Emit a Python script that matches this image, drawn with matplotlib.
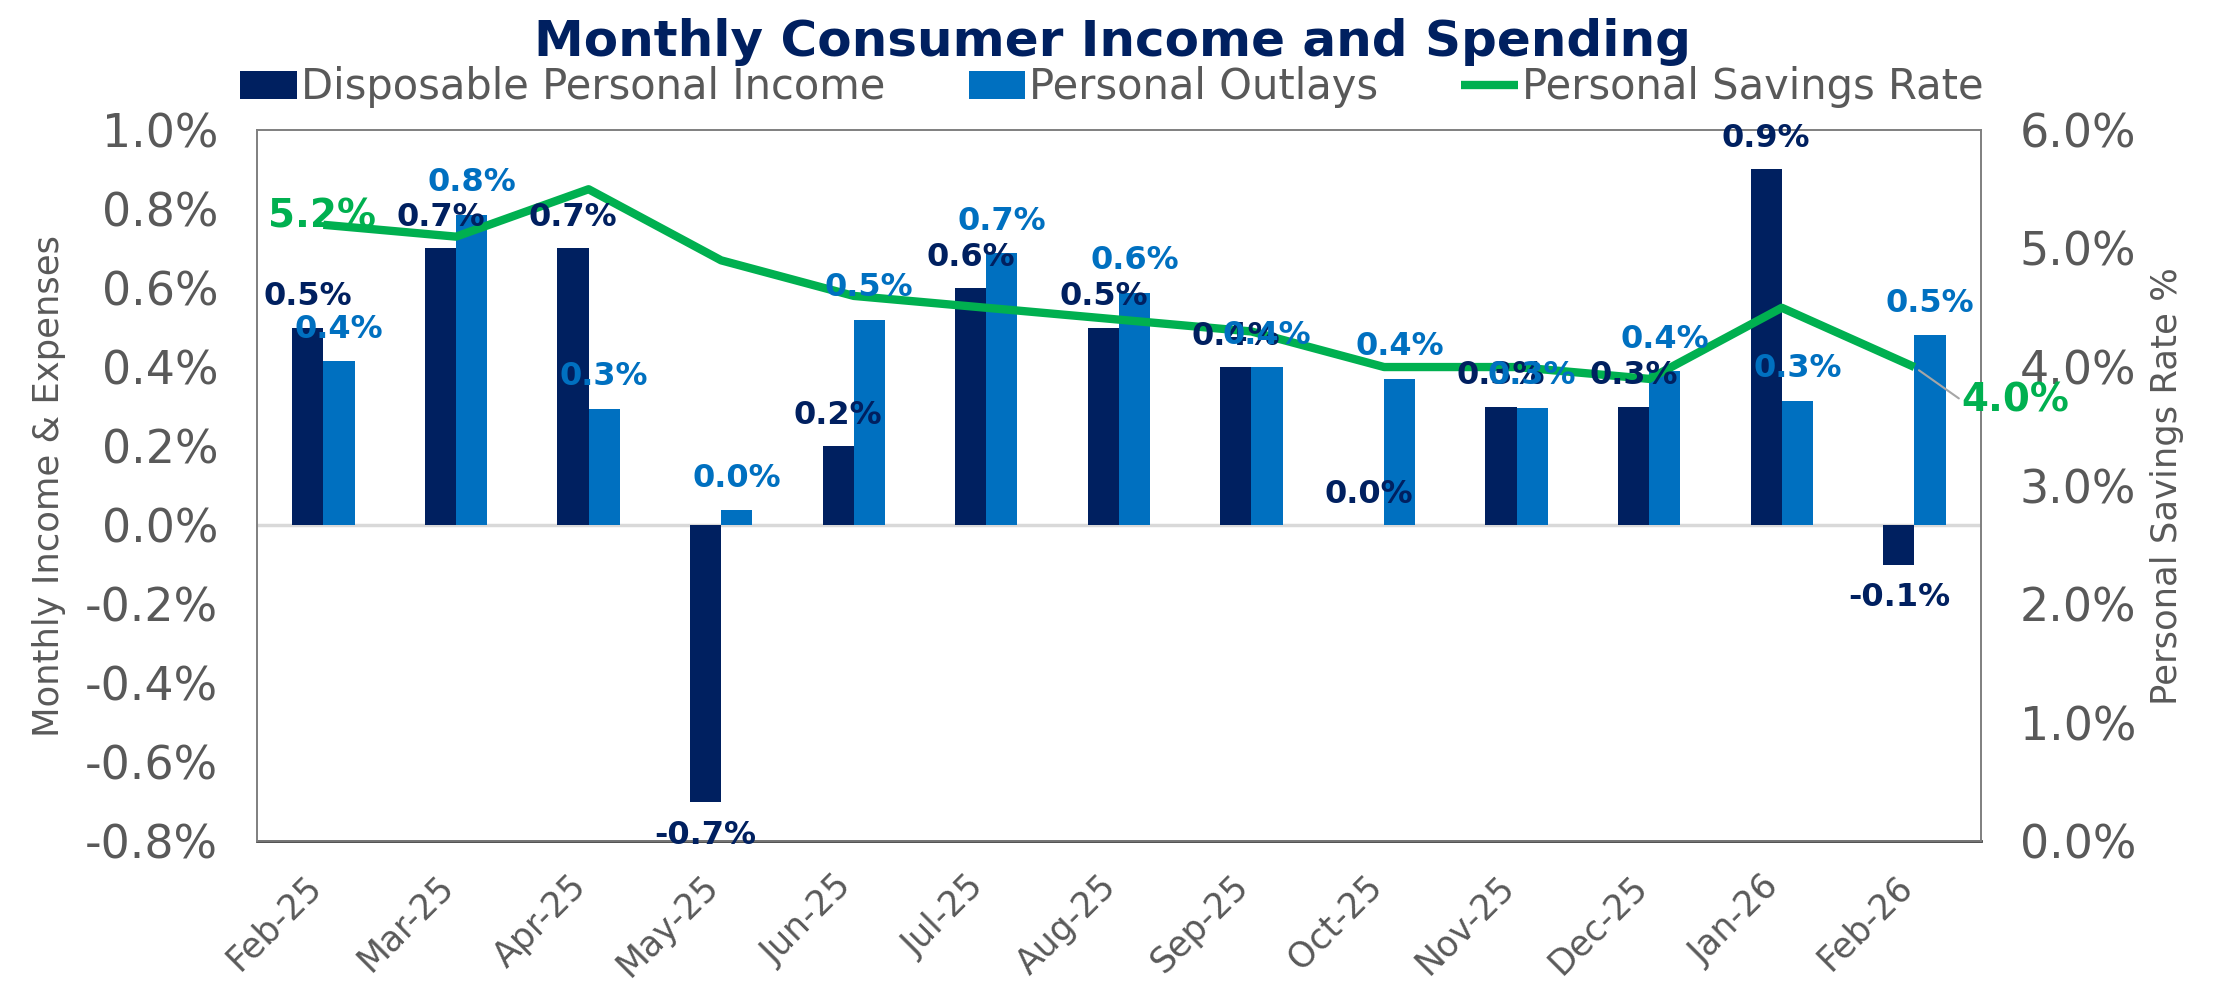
import matplotlib
matplotlib.use("Agg")
from matplotlib import pyplot as plt
import numpy as np

months = ["Feb-25", "Mar-25", "Apr-25", "May-25", "Jun-25", "Jul-25", "Aug-25",
          "Sep-25", "Oct-25", "Nov-25", "Dec-25", "Jan-26", "Feb-26"]
income = [0.50, 0.70, 0.70, -0.70, 0.20, 0.60, 0.50, 0.40, 0.00, 0.30, 0.30, 0.90, -0.10]
outlays = [0.415, 0.785, 0.295, 0.038, 0.52, 0.688, 0.588, 0.40, 0.37, 0.297, 0.39, 0.315, 0.48]
savings = [5.2, 5.1, 5.5, 4.9, 4.6, 4.5, 4.4, 4.3, 4.0, 4.0, 3.9, 4.5, 4.0]
left_ticks = [-0.8, -0.6, -0.4, -0.2, 0.0, 0.2, 0.4, 0.6, 0.8, 1.0]
right_ticks = [0, 1, 2, 3, 4, 5, 6]

NAVY = "#002060"
BLUE = "#0070C0"
GREEN = "#00B050"
GREY = "#595959"

plt.rcParams["font.family"] = ["DejaVu Sans"]

fig = plt.figure(figsize=(22.24, 9.92), dpi=100)
ax = fig.add_axes([0.1156, 0.152, 0.775, 0.717])
ax2 = ax.twinx()

x = np.arange(len(months))
w = 0.235
b1 = ax.bar(x - w / 2, income, w, color=NAVY, label="Disposable Personal Income", zorder=2)
b2 = ax.bar(x + w / 2, outlays, w, color=BLUE, label="Personal Outlays", zorder=2)
ax.axhline(0, color="#D9D9D9", lw=2.5, zorder=1)

ln, = ax2.plot(x, savings, color=GREEN, lw=6, solid_capstyle="butt",
               label="Personal Savings Rate")

ax.set_xlim(-0.5, len(months) - 0.5)
ax.set_ylim(-0.8, 1.0)
ax2.set_ylim(0, 6)
ax.set_yticks(left_ticks)
ax.set_yticklabels([f"{t:.1f}%" for t in left_ticks])
ax2.set_yticks(right_ticks)
ax2.set_yticklabels([f"{t:.1f}%" for t in right_ticks])
# tick marks are hidden; nudge labels a little left like the original
ax.set_xticks(x - 0.15)
ax.set_xticklabels(months, rotation=45, ha="right", rotation_mode="anchor")

ax.tick_params(axis="y", length=0, pad=28, labelsize=33, labelcolor=GREY)
ax2.tick_params(axis="y", length=0, pad=28, labelsize=33, labelcolor=GREY)
ax.tick_params(axis="x", length=0, pad=20, labelsize=25, labelcolor=GREY)

ax.set_ylabel("Monthly Income & Expenses", fontsize=25.5, color=GREY, labelpad=14)
ax2.set_ylabel("Personal Savings Rate %", fontsize=25.5, color=GREY, labelpad=10)

for a in (ax, ax2):
    for s in a.spines.values():
        s.set_color("#7F7F7F")
        s.set_linewidth(1.2)
ax.spines["bottom"].set_color("#404040")
ax.spines["bottom"].set_linewidth(2)

# data labels, drawn on top axes so they sit above the line
for xi, v in zip(x, income):
    off = 22 if v >= 0 else -24
    ax2.annotate(f"{v:.1f}%", xy=(xi - w / 2, v), xycoords=ax.transData,
                 xytext=(0, off), textcoords="offset points", ha="center", va="center",
                 fontsize=23, fontweight="bold", color=NAVY)
for xi, v in zip(x, outlays):
    ax2.annotate(f"{v:.1f}%", xy=(xi + w / 2, v), xycoords=ax.transData,
                 xytext=(0, 23), textcoords="offset points", ha="center", va="center",
                 fontsize=23, fontweight="bold", color=BLUE)

ax2.annotate(f"{savings[0]:.1f}%", xy=(x[0], savings[0]), xytext=(-1, 6),
             textcoords="offset points", ha="center", va="center",
             fontsize=28, fontweight="bold", color=GREEN)
ax2.annotate(f"{savings[-1]:.1f}%", xy=(x[-1], savings[-1]), xytext=(34, -24),
             textcoords="offset points", ha="left", va="center",
             fontsize=28, fontweight="bold", color=GREEN,
             arrowprops=dict(arrowstyle="-", color="#A6A6A6", lw=1.5,
                             shrinkA=0, shrinkB=4, relpos=(0, 0.5)))

fig.text(0.5, 0.958, "Monthly Consumer Income and Spending", ha="center", va="center",
         fontsize=36, fontweight="bold", color=NAVY)
leg = fig.legend([b1, b2, ln], [b1.get_label(), b2.get_label(), ln.get_label()],
                 loc="center", bbox_to_anchor=(0.5, 0.912), ncol=3, frameon=False,
                 fontsize=30, handlelength=1.35, handleheight=0.65, handletextpad=0.1,
                 columnspacing=2.0, labelcolor=GREY, borderpad=0)

fig.savefig("out.png", dpi=100)
